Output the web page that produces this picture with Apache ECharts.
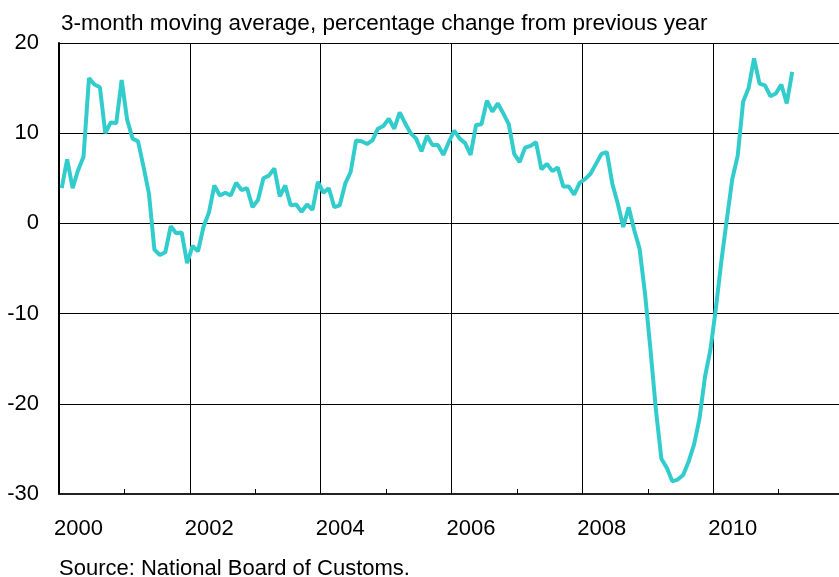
<!DOCTYPE html>
<html>
<head>
<meta charset="utf-8">
<script src="https://cdn.jsdelivr.net/npm/echarts@6/dist/echarts.min.js"></script>
<style>
html, body { margin: 0; padding: 0; background: #fff; }
#main { width: 839px; height: 577px; }
</style>
</head>
<body>
<div id="main"></div>
<script>
// monthly series, first value = Jan 2000
var startYear = 2000;
var exportGrowth = [
    3.9, 7.1, 3.9, 5.9, 7.4, 16.1, 15.4, 15.1, 10.0, 11.2, 11.1, 15.9,
    11.5, 9.4, 9.1, 6.3, 3.3, -2.9, -3.5, -3.2, -0.3, -1.1, -1.0, -4.4,
    -2.5, -3.1, -0.4, 1.2, 4.2, 3.1, 3.4, 3.1, 4.5, 3.7, 3.9, 1.8,
    2.6, 5.0, 5.3, 6.1, 3.0, 4.2, 2.0, 2.1, 1.3, 2.1, 1.5, 4.6,
    3.4, 3.9, 1.8, 2.0, 4.4, 5.7, 9.2, 9.1, 8.8, 9.2, 10.5, 10.8,
    11.6, 10.5, 12.3, 11.1, 10.0, 9.4, 8.0, 9.7, 8.7, 8.7, 7.6, 9.0,
    10.3, 9.4, 8.9, 7.6, 10.9, 11.0, 13.6, 12.4, 13.3, 12.2, 11.0, 7.7,
    6.8, 8.4, 8.6, 9.0, 6.0, 6.6, 5.8, 6.2, 4.1, 4.1, 3.2, 4.5,
    4.9, 5.5, 6.6, 7.7, 7.9, 4.4, 2.2, -0.4, 1.8, -0.7, -2.8, -7.8,
    -14.0, -20.7, -26.1, -27.1, -28.6, -28.4, -27.9, -26.4, -24.5, -21.6, -17.0, -14.0,
    -9.4, -4.2, 0.4, 4.9, 7.5, 13.5, 15.0, 18.3, 15.5, 15.3, 14.1, 14.4,
    15.4, 13.3, 16.8
];
var yTicks = [-30, -20, -10, 0, 10, 20];
var xYears = [2000, 2012];

var subtitle = '3-month moving average, percentage change from previous year';
var source = 'Source: National Board of Customs.';

var font = '"Liberation Sans", Arial, sans-serif';

function monthPoints(values) {
    var pts = [];
    for (var i = 0; i < values.length; i++) {
        // plot at mid-month
        pts.push([startYear + (i + 0.5) / 12, values[i]]);
    }
    return pts;
}

function DrawChart() {
    var chart = echarts.init(document.getElementById('main'));

    var option = {
        animation: false,
        title: [
            {
                text: subtitle,
                left: 61,
                top: 12,
                padding: 0,
                textStyle: { fontFamily: font, fontSize: 22.5, fontWeight: 'normal', color: '#000' }
            },
            {
                text: source,
                left: 59,
                top: 558,
                padding: 0,
                textStyle: { fontFamily: font, fontSize: 22, fontWeight: 'normal', color: '#000' }
            }
        ],
        grid: {
            left: 59,
            right: -5,
            top: 43,
            bottom: 83,
            outerBoundsMode: 'none',
            containLabel: false
        },
        xAxis: {
            type: 'value',
            min: xYears[0],
            max: xYears[1],
            interval: 2,
            axisLine: { show: true, onZero: false, lineStyle: { color: '#222', width: 2 } },
            axisTick: { show: true, inside: true, length: 5, lineStyle: { color: '#000' } },
            minorTick: { show: true, splitNumber: 2, length: 5, lineStyle: { color: '#000' } },
            splitLine: { show: true, lineStyle: { color: '#000', width: 1 } },
            axisLabel: {
                fontFamily: font,
                fontSize: 22,
                color: '#000',
                margin: 24,
                padding: [0, 0, 0, 39],
                showMaxLabel: false,
                formatter: function (v) { return String(v); }
            }
        },
        yAxis: {
            type: 'value',
            min: yTicks[0],
            max: yTicks[yTicks.length - 1],
            interval: 10,
            axisLine: { show: true, lineStyle: { color: '#000', width: 2 } },
            axisTick: { show: false },
            splitLine: { show: true, lineStyle: { color: '#000', width: 1 } },
            axisLabel: {
                fontFamily: font,
                fontSize: 22,
                color: '#000',
                margin: 20
            }
        },
        series: [
            {
                name: 'exports',
                type: 'line',
                data: monthPoints(exportGrowth),
                showSymbol: false,
                clip: true,
                lineStyle: { color: '#33cccc', width: 4 },
                z: 3
            }
        ]
    };

    chart.setOption(option);
}

DrawChart();
</script>
</body>
</html>
